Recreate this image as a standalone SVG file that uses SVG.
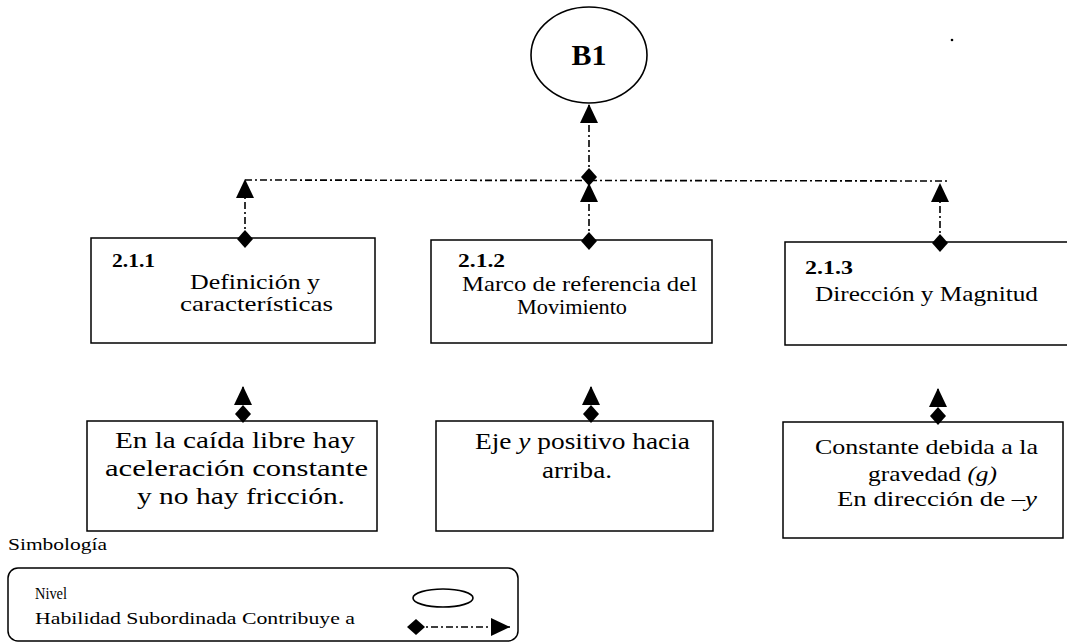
<svg xmlns="http://www.w3.org/2000/svg" width="1067" height="644" viewBox="0 0 1067 644">
<style>
.bg{fill:#fff}
.box{fill:#fff;stroke:#000;stroke-width:1.5}
.node{fill:#fff;stroke:#000;stroke-width:1.6}
.conn{fill:none;stroke:#000;stroke-width:1.6;stroke-dasharray:7 3 2 3}
text{font-family:'Liberation Serif','DejaVu Serif','Times New Roman',serif;fill:#000}
.b{font-weight:bold}
.s20{font-size:21px}
.s23{font-size:24px}
.s21{font-size:22px}
.s16{font-size:17px}
.s15{font-size:16px}
</style>
<defs>
<marker id="tri" markerUnits="userSpaceOnUse" markerWidth="19" markerHeight="18" refX="19" refY="9" orient="auto" viewBox="0 0 19 18">
<path d="M0,0 L19,9 L0,18 z" fill="#000"/>
</marker>
<marker id="dia" markerUnits="userSpaceOnUse" markerWidth="18" markerHeight="16" refX="9" refY="8" orient="auto" viewBox="0 0 18 16">
<path d="M0,8 L9,0 L18,8 L9,16 z" fill="#000"/>
</marker>
</defs>
<rect class="bg" x="0" y="0" width="1067" height="644"/>

<g id="node-B1" font-family="Liberation Serif, DejaVu Serif, serif">
<ellipse class="node" cx="589" cy="55" rx="58" ry="48"/>
<text class="b" x="589" y="65" font-size="30" text-anchor="middle">B1</text>
</g>

<g id="node-211" font-family="Liberation Serif, DejaVu Serif, serif">
<rect class="box" x="91" y="238" width="284" height="105"/>
<text class="b" font-size="19" x="112" y="267" textLength="43" lengthAdjust="spacingAndGlyphs">2.1.1</text>
<text class="s20" x="190" y="289" textLength="130" lengthAdjust="spacingAndGlyphs">Definición y</text>
<text class="s20" x="180" y="311" textLength="153" lengthAdjust="spacingAndGlyphs">características</text>
</g>

<g id="node-212" font-family="Liberation Serif, DejaVu Serif, serif">
<rect class="box" x="431" y="240" width="281" height="103"/>
<text class="b" font-size="19" x="458" y="267" textLength="47" lengthAdjust="spacingAndGlyphs">2.1.2</text>
<text class="s20" x="462" y="291" textLength="235" lengthAdjust="spacingAndGlyphs">Marco de referencia del</text>
<text class="s20" x="517" y="314" textLength="110" lengthAdjust="spacingAndGlyphs">Movimiento</text>
</g>

<g id="node-213" font-family="Liberation Serif, DejaVu Serif, serif">
<rect class="box" x="785" y="242" width="290" height="103"/>
<text class="b" font-size="19" x="805" y="274" textLength="48" lengthAdjust="spacingAndGlyphs">2.1.3</text>
<text class="s20" x="815" y="301" textLength="223" lengthAdjust="spacingAndGlyphs">Dirección  y Magnitud</text>
</g>

<g id="node-c1" font-family="Liberation Serif, DejaVu Serif, serif">
<rect class="box" x="87" y="421" width="290" height="110"/>
<text class="s23" x="115" y="448" textLength="240" lengthAdjust="spacingAndGlyphs">En la caída libre hay</text>
<text class="s23" x="105" y="476" textLength="263" lengthAdjust="spacingAndGlyphs">aceleración constante</text>
<text class="s23" x="137" y="504" textLength="208" lengthAdjust="spacingAndGlyphs">y no hay fricción.</text>
</g>

<g id="node-c2" font-family="Liberation Serif, DejaVu Serif, serif">
<rect class="box" x="436" y="421" width="277" height="110"/>
<text class="s23" x="475" y="449" textLength="215" lengthAdjust="spacingAndGlyphs">Eje <tspan font-style="italic">y</tspan> positivo hacia</text>
<text class="s23" x="542" y="478" textLength="70" lengthAdjust="spacingAndGlyphs">arriba.</text>
</g>

<g id="node-c3" font-family="Liberation Serif, DejaVu Serif, serif">
<rect class="box" x="783" y="422" width="280" height="116"/>
<text class="s21" x="815" y="454" textLength="223" lengthAdjust="spacingAndGlyphs">Constante debida a la</text>
<text class="s21" x="868" y="481" textLength="129" lengthAdjust="spacingAndGlyphs">gravedad <tspan font-style="italic">(g)</tspan></text>
<text class="s21" x="837" y="506" textLength="200" lengthAdjust="spacingAndGlyphs">En dirección de <tspan font-style="italic">–y</tspan></text>
</g>

<g id="connectors">
<line class="conn" x1="245" y1="180" x2="947" y2="181"/>
<line class="conn" x1="589" y1="177" x2="589" y2="104" marker-start="url(#dia)" marker-end="url(#tri)"/>
<line class="conn" x1="245" y1="239" x2="245" y2="179" marker-start="url(#dia)" marker-end="url(#tri)"/>
<line class="conn" x1="589" y1="241" x2="589" y2="183" marker-start="url(#dia)" marker-end="url(#tri)"/>
<line class="conn" x1="940" y1="243" x2="940" y2="183" marker-start="url(#dia)" marker-end="url(#tri)"/>
<line class="conn" x1="243" y1="414" x2="243" y2="386" marker-start="url(#dia)" marker-end="url(#tri)"/>
<line class="conn" x1="591" y1="414" x2="591" y2="386" marker-start="url(#dia)" marker-end="url(#tri)"/>
<line class="conn" x1="938" y1="416" x2="938" y2="388" marker-start="url(#dia)" marker-end="url(#tri)"/>
</g>

<g id="legend" font-family="Liberation Serif, DejaVu Serif, serif">
<text class="s16" x="8" y="550" textLength="99" lengthAdjust="spacingAndGlyphs">Simbología</text>
<rect class="box" x="8" y="568" width="510" height="73" rx="10" ry="10"/>
<text class="s15" x="35" y="599" textLength="32" lengthAdjust="spacingAndGlyphs">Nivel</text>
<text class="s15" x="35" y="624" textLength="320" lengthAdjust="spacingAndGlyphs">Habilidad  Subordinada Contribuye a</text>
<ellipse class="node" cx="443" cy="598" rx="30" ry="9"/>
<line class="conn" x1="416" y1="627" x2="510" y2="627" marker-start="url(#dia)" marker-end="url(#tri)"/>
</g>

<circle cx="952" cy="40" r="1.3" fill="#000"/>
</svg>
